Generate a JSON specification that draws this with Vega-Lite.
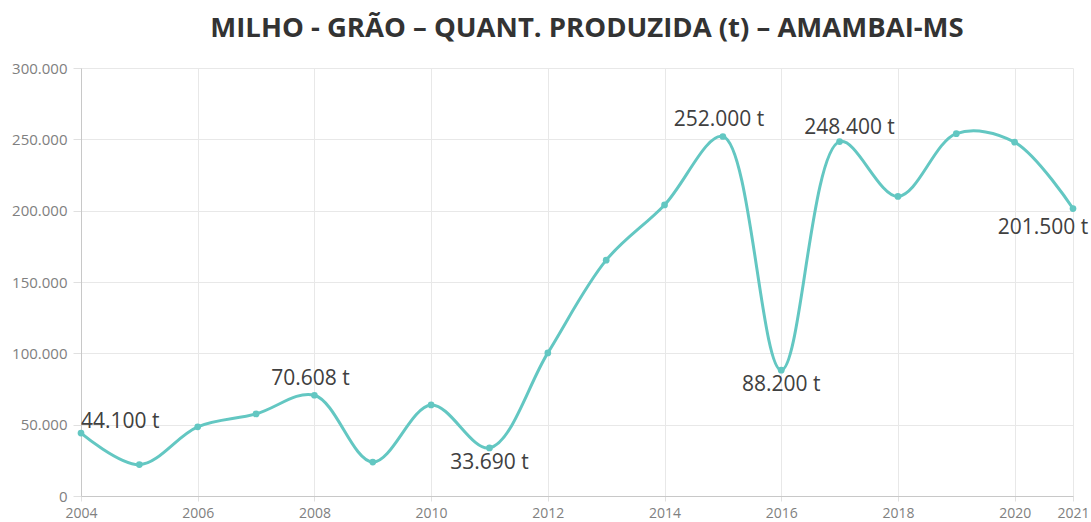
{
  "$schema": "https://vega.github.io/schema/vega-lite/v6.json",
  "width": 992,
  "height": 428,
  "autosize": {"type": "none"},
  "padding": {"left": 81, "top": 68, "right": 18, "bottom": 26},
  "background": "white",
  "title": {
    "text": "MILHO - GRÃO – QUANT. PRODUZIDA (t) – AMAMBAI-MS",
    "font": "Open Sans",
    "fontSize": 27.5,
    "fontWeight": "bold",
    "color": "#333333",
    "anchor": "middle",
    "dx": 10,
    "offset": 19
  },
  "data": {
    "values": [
      {"ano": 2004, "t": 44100, "label": "44.100 t"},
      {"ano": 2005, "t": 22000},
      {"ano": 2006, "t": 48500},
      {"ano": 2007, "t": 57500},
      {"ano": 2008, "t": 70608, "label": "70.608 t"},
      {"ano": 2009, "t": 23800},
      {"ano": 2010, "t": 63800},
      {"ano": 2011, "t": 33690, "label": "33.690 t"},
      {"ano": 2012, "t": 100300},
      {"ano": 2013, "t": 165300},
      {"ano": 2014, "t": 204000},
      {"ano": 2015, "t": 252000, "label": "252.000 t"},
      {"ano": 2016, "t": 88200, "label": "88.200 t"},
      {"ano": 2017, "t": 248400, "label": "248.400 t"},
      {"ano": 2018, "t": 210000},
      {"ano": 2019, "t": 254000},
      {"ano": 2020, "t": 248000},
      {"ano": 2021, "t": 201500, "label": "201.500 t"}
    ]
  },
  "encoding": {
    "x": {
      "field": "ano", "type": "quantitative",
      "scale": {"domain": [2004, 2021], "nice": false, "zero": false},
      "axis": {
        "title": null, "values": [2004, 2006, 2008, 2010, 2012, 2014, 2016, 2018, 2020, 2021],
        "format": "d", "labelFont": "Open Sans", "labelFontSize": 14, "labelColor": "#808080",
        "gridColor": "#e8e8e8", "domainColor": "#c8c8c8", "tickColor": "#e0e0e0", "tickSize": 5,
        "labelPadding": 5, "labelOverlap": false, "labelFlush": false
      }
    },
    "y": {
      "field": "t", "type": "quantitative",
      "scale": {"domain": [0, 300000], "nice": false},
      "axis": {
        "title": null, "values": [0, 50000, 100000, 150000, 200000, 250000, 300000],
        "format": ",d", "labelFont": "Open Sans", "labelFontSize": 15, "labelColor": "#808080",
        "gridColor": "#e8e8e8", "domainColor": "#c8c8c8", "tickColor": "#e0e0e0", "tickSize": 8,
        "labelPadding": 6, "labelFlush": false
      }
    }
  },
  "layer": [
    {"mark": {"type": "line", "interpolate": "catmull-rom", "color": "#63c7c2", "strokeWidth": 3}},
    {"mark": {"type": "point", "filled": true, "color": "#63c7c2", "size": 45, "opacity": 1}},
    {
      "transform": [{"filter": "datum.ano == 2004"}],
      "mark": {"type": "text", "align": "left", "baseline": "middle", "dx": 0, "dy": -11, "font": "Open Sans", "fontSize": 21, "color": "#404040"},
      "encoding": {"text": {"field": "label"}}
    },
    {
      "transform": [{"filter": "datum.ano == 2008 || datum.ano == 2015"}],
      "mark": {"type": "text", "align": "center", "baseline": "middle", "dx": -4, "dy": -16, "font": "Open Sans", "fontSize": 21, "color": "#404040"},
      "encoding": {"text": {"field": "label"}}
    },
    {
      "transform": [{"filter": "datum.ano == 2017"}],
      "mark": {"type": "text", "align": "center", "baseline": "middle", "dx": 10, "dy": -14, "font": "Open Sans", "fontSize": 21, "color": "#404040"},
      "encoding": {"text": {"field": "label"}}
    },
    {
      "transform": [{"filter": "datum.ano == 2011 || datum.ano == 2016"}],
      "mark": {"type": "text", "align": "center", "baseline": "middle", "dx": 0, "dy": 15, "font": "Open Sans", "fontSize": 21, "color": "#404040"},
      "encoding": {"text": {"field": "label"}}
    },
    {
      "transform": [{"filter": "datum.ano == 2021"}],
      "mark": {"type": "text", "align": "center", "baseline": "middle", "dx": -30, "dy": 19, "font": "Open Sans", "fontSize": 21, "color": "#404040"},
      "encoding": {"text": {"field": "label"}}
    }
  ],
  "config": {
    "locale": {"number": {"decimal": ",", "thousands": ".", "grouping": [3], "currency": ["R$", ""]}},
    "view": {"stroke": null}
  }
}
